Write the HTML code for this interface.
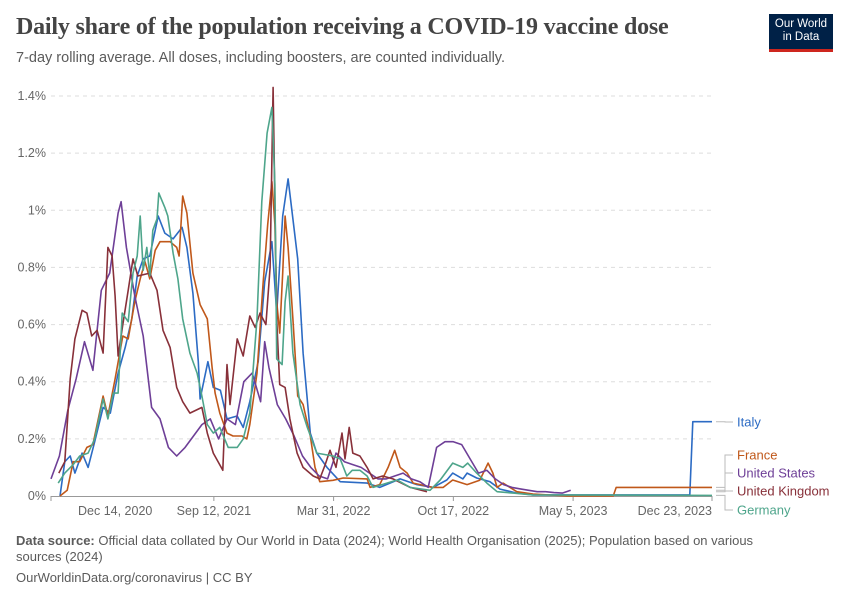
<!DOCTYPE html>
<html><head><meta charset="utf-8">
<style>
body{margin:0;background:#fff;font-family:"Liberation Sans",sans-serif;}
#wrap{position:relative;width:850px;height:600px;overflow:hidden;}
.title{position:absolute;left:16px;top:14px;font-family:"Liberation Serif",serif;font-size:24px;font-weight:bold;color:#444;letter-spacing:-0.2px;}
.sub{position:absolute;left:16px;top:50px;font-size:14.5px;color:#5b5b5b;}
.logo{position:absolute;left:769px;top:14px;width:64px;height:38px;background:#002147;color:#fff;font-size:11.5px;line-height:13px;text-align:center;padding-top:4px;box-sizing:border-box;border-bottom:3px solid #ce261e;}
.foot{position:absolute;left:16px;font-size:13px;color:#5b5b5b;}
</style></head><body>
<div id="wrap">
<div class="title">Daily share of the population receiving a COVID-19 vaccine dose</div>
<div class="sub">7-day rolling average. All doses, including boosters, are counted individually.</div>
<div class="logo">Our World<br>in Data</div>
<svg id="chart" width="850" height="600" style="position:absolute;left:0;top:0"></svg>
<div class="foot" style="top:533px;width:780px;line-height:16px"><b>Data source:</b> Official data collated by Our World in Data (2024); World Health Organisation (2025); Population based on various sources (2024)</div>
<div class="foot" style="top:570px">OurWorldinData.org/coronavirus | CC BY</div>
</div>
<script>
const yTicks=[0,0.2,0.4,0.6,0.8,1,1.2,1.4];
const yTickLabels=["0%","0.2%","0.4%","0.6%","0.8%","1%","1.2%","1.4%"];
const xTickDays=[0,272,472,672,872,1104];
const xTickLabels=["Dec 14, 2020","Sep 12, 2021","Mar 31, 2022","Oct 17, 2022","May 5, 2023","Dec 23, 2023"];
const seriesNames=["Italy","France","United States","United Kingdom","Germany"];
const italyData=[[15,0],[23,0.12],[32,0.14],[40,0.08],[52,0.15],[62,0.10],[73,0.19],[87,0.31],[99,0.29],[112,0.43],[124,0.52],[135,0.62],[144,0.77],[154,0.83],[165,0.84],[179,0.98],[190,0.92],[204,0.90],[219,0.94],[227,0.87],[237,0.71],[246,0.47],[249,0.34],[262,0.47],[271,0.38],[283,0.37],[294,0.27],[311,0.28],[321,0.24],[332,0.33],[346,0.47],[357,0.75],[369,0.89],[377,0.64],[387,0.98],[396,1.11],[404,0.97],[412,0.83],[421,0.50],[433,0.22],[444,0.15],[461,0.10],[483,0.05],[528,0.045],[549,0.03],[583,0.06],[611,0.04],[638,0.03],[661,0.056],[671,0.08],[688,0.06],[695,0.08],[711,0.063],[733,0.05],[750,0.024],[778,0.01],[805,0.004],[1067,0.004],[1072,0.26],[1104,0.26]];
const franceData=[[15,0],[27,0.02],[37,0.12],[48,0.12],[60,0.17],[70,0.18],[87,0.35],[95,0.28],[107,0.41],[120,0.56],[129,0.55],[140,0.68],[149,0.76],[157,0.82],[165,0.76],[174,0.86],[182,0.89],[199,0.89],[210,0.87],[214,0.84],[220,1.05],[227,0.99],[237,0.78],[249,0.67],[261,0.62],[269,0.45],[274,0.36],[282,0.29],[294,0.22],[304,0.21],[319,0.21],[327,0.20],[332,0.25],[344,0.43],[354,0.74],[362,0.95],[369,1.10],[374,0.95],[377,0.68],[382,0.57],[387,0.78],[391,0.98],[396,0.87],[404,0.62],[412,0.35],[421,0.32],[433,0.21],[441,0.10],[449,0.05],[471,0.055],[488,0.063],[528,0.06],[533,0.03],[549,0.04],[563,0.10],[574,0.16],[583,0.10],[595,0.08],[605,0.045],[638,0.03],[655,0.03],[671,0.056],[695,0.04],[716,0.055],[730,0.115],[738,0.08],[745,0.03],[755,0.045],[778,0.015],[805,0.007],[862,0],[939,0],[944,0.03],[1104,0.03]];
const usData=[[0,0.06],[14,0.14],[28,0.30],[42,0.41],[56,0.54],[70,0.44],[84,0.72],[98,0.78],[112,0.99],[117,1.03],[126,0.87],[140,0.70],[154,0.56],[168,0.31],[182,0.27],[196,0.17],[210,0.14],[224,0.17],[238,0.21],[252,0.25],[266,0.27],[280,0.20],[294,0.27],[308,0.25],[322,0.40],[336,0.43],[350,0.33],[357,0.54],[364,0.45],[378,0.32],[392,0.27],[406,0.21],[420,0.14],[434,0.10],[448,0.07],[462,0.06],[476,0.15],[490,0.12],[504,0.11],[518,0.10],[532,0.08],[546,0.06],[560,0.06],[574,0.07],[588,0.08],[602,0.06],[616,0.05],[630,0.03],[644,0.17],[658,0.19],[672,0.19],[686,0.18],[700,0.13],[714,0.08],[728,0.09],[742,0.06],[756,0.04],[770,0.03],[784,0.025],[798,0.02],[812,0.015],[826,0.015],[840,0.012],[854,0.01],[868,0.02]];
const ukData=[[13,0.08],[23,0.12],[32,0.41],[40,0.55],[52,0.65],[60,0.64],[68,0.56],[77,0.58],[87,0.50],[95,0.87],[102,0.84],[107,0.70],[112,0.49],[120,0.60],[129,0.72],[137,0.83],[145,0.77],[165,0.78],[177,0.72],[187,0.58],[199,0.52],[210,0.38],[220,0.33],[232,0.29],[252,0.31],[261,0.22],[271,0.15],[287,0.09],[294,0.46],[299,0.32],[311,0.55],[321,0.49],[332,0.63],[341,0.59],[349,0.64],[359,0.60],[366,0.80],[371,1.43],[377,0.62],[382,0.39],[391,0.38],[399,0.27],[411,0.15],[421,0.10],[438,0.07],[449,0.06],[458,0.11],[466,0.16],[476,0.10],[486,0.22],[491,0.13],[498,0.24],[504,0.15],[516,0.14],[528,0.10],[538,0.06],[554,0.07],[571,0.06],[600,0.03],[628,0.015]];
const germanyData=[[12,0.045],[23,0.08],[37,0.11],[48,0.14],[62,0.15],[73,0.20],[87,0.34],[95,0.27],[104,0.36],[112,0.36],[119,0.64],[129,0.61],[137,0.78],[144,0.84],[149,0.98],[154,0.79],[160,0.87],[165,0.77],[170,0.93],[177,0.97],[180,1.06],[190,1.01],[195,0.98],[204,0.85],[212,0.76],[220,0.62],[232,0.50],[244,0.43],[252,0.35],[261,0.25],[271,0.22],[282,0.24],[296,0.17],[311,0.17],[321,0.20],[332,0.29],[344,0.62],[352,1.03],[361,1.27],[369,1.36],[374,1.09],[377,0.48],[386,0.46],[391,0.68],[396,0.77],[404,0.50],[416,0.32],[428,0.24],[444,0.15],[471,0.14],[483,0.13],[494,0.07],[503,0.09],[516,0.09],[528,0.07],[538,0.03],[561,0.045],[578,0.056],[600,0.03],[633,0.02],[650,0.056],[671,0.115],[688,0.10],[696,0.115],[711,0.08],[728,0.045],[745,0.015],[772,0.01],[805,0.004],[1104,0.002]];
const seriesData=[italyData,franceData,usData,ukData,germanyData];
const colors=["#2c6bc4","#c0581a","#6e3f97","#883039","#4ea58b"];
const labelY=[422,455,473,491,510];

const NS="http://www.w3.org/2000/svg";
const svg=document.getElementById('chart');
const X0=51,X1=712,D1=1104,Y0=496,Y1=96,VMAX=1.4;
function xS(d){return X0+(X1-X0)*d/D1;}
function yS(v){return Y0-(Y0-Y1)*v/VMAX;}
function mk(tag,attrs){const e=document.createElementNS(NS,tag);for(const k in attrs)e.setAttribute(k,attrs[k]);svg.appendChild(e);return e;}
yTicks.forEach((t,i)=>{
  if(i>0){const g=mk('line',{x1:51,x2:712,y1:yS(t),y2:yS(t),stroke:'#ddd','stroke-dasharray':'4,4'});
  
  }
  const tx=mk('text',{x:46,y:yS(t)+4,'text-anchor':'end','font-size':'12.5','fill':'#666','font-family':'Liberation Sans'});
  tx.textContent=yTickLabels[i];
  
  
});
const ax=mk('line',{x1:51,x2:712,y1:496.5,y2:496.5,stroke:'#999'});


xTickDays.forEach((d,i)=>{
  const tk=mk('line',{x1:xS(d),x2:xS(d),y1:496,y2:501,stroke:'#999'});
  
  
  const anchor=i==0?'start':(i==xTickDays.length-1?'end':'middle');
  const tx=mk('text',{x:i==0?78:xS(d),y:515,'text-anchor':anchor,'font-size':'12.5','fill':'#666','font-family':'Liberation Sans'});
  tx.textContent=xTickLabels[i];
  
  
});
seriesData.forEach((data,i)=>{
  const p=data.map((pt,j)=>(j?'L':'M')+xS(pt[0]).toFixed(1)+','+yS(pt[1]).toFixed(1)).join('');
  const path=mk('path',{d:p,fill:'none',stroke:colors[i],'stroke-width':1.6,'stroke-linejoin':'round'});
  
  
  const last=data[data.length-1];
  const ly=labelY[i], ey=yS(last[1]);
  const c=mk('path',{d:`M716,${ey}H725V${ly}H733`,fill:'none',stroke:'#bbb','stroke-width':1});
  
  
  const t=mk('text',{x:737,y:ly+4.5,'font-size':'13','fill':colors[i],'font-family':'Liberation Sans'});
  t.textContent=seriesNames[i];
  
  
});
</script>
</body></html>
